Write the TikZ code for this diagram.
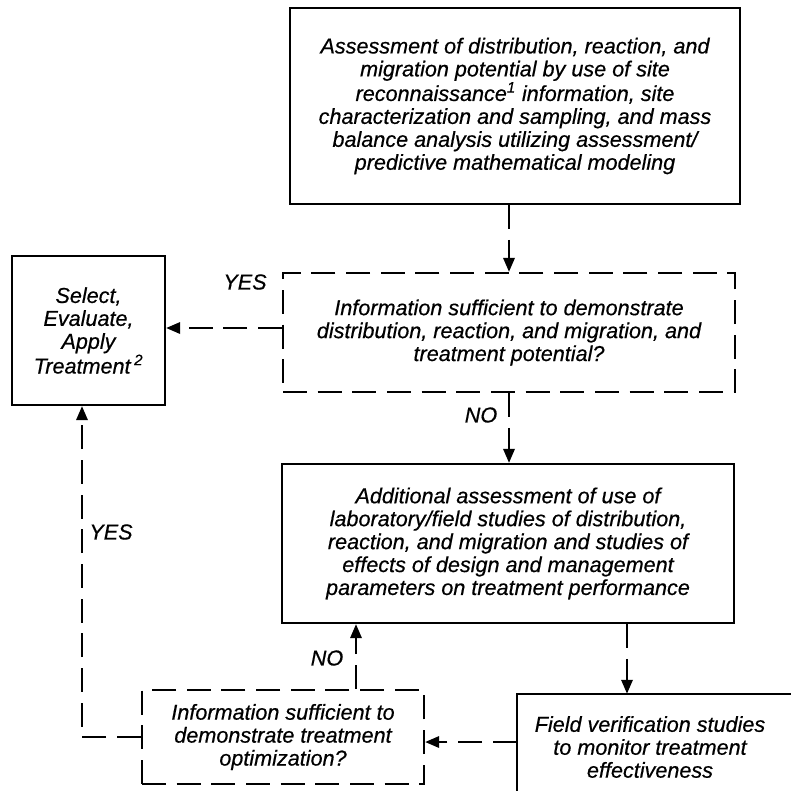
\documentclass[tikz,border=0pt]{standalone}
\usepackage{fontspec}
\setmainfont{Liberation Sans}[FakeBold=0.5]
\usetikzlibrary{arrows.meta}
\begin{document}
\begin{tikzpicture}[x=0.75pt,y=-0.75pt,
  every node/.style={font=\itshape\fontsize{16.2}{17.2}\selectfont, align=center, inner sep=0pt},
  box/.style={draw, line width=1.7pt},
  dbox/.style={box, dash pattern=on 18pt off 8pt},
  conn/.style={line width=1.7pt, dash pattern=on 18pt off 8pt, -{Triangle[length=10.5pt,width=8.5pt]}}]
\useasboundingbox (0,0) rectangle (791,790);
\fill[white] (0,0) rectangle (791,790);

\node[box, minimum width=337.5pt, minimum height=147pt] (top) at (515,106)
  {Assessment of distribution, reaction, and\\ migration potential by use of site\\ reconnaissance\textsuperscript{1} information, site\\ characterization and sampling, and mass\\ balance analysis utilizing assessment/\\ predictive mathematical modeling};
\node[dbox, minimum width=339pt, minimum height=89.25pt] (d1) at (509,332.5)
  {Information sufficient to demonstrate\\ distribution, reaction, and migration, and\\ treatment potential?};
\node[box, minimum width=114.75pt, minimum height=111.75pt] (sel) at (88.5,330.5)
  {Select,\\ Evaluate,\\ Apply\\ Treatment\,\textsuperscript{2}};
\node[box, minimum width=339pt, minimum height=119.25pt] (add) at (508,543.5)
  {Additional assessment of use of\\ laboratory/field studies of distribution,\\ reaction, and migration and studies of\\ effects of design and management\\ parameters on treatment performance};
\node[dbox, minimum width=211.5pt, minimum height=70.5pt] (d2) at (283,737)
  {Information sufficient to\\ demonstrate treatment\\ optimization?};
\node[minimum width=199.5pt, minimum height=79.5pt] (field) at (650,747)
  {Field verification studies\\ to monitor treatment\\ effectiveness};
\draw[line width=1.7pt] (field.south west) -- (field.north west) -- ++(320,0);

\coordinate (fx) at (627,0);
\coordinate (fy) at (0,742);
\coordinate (nx) at (356,0);
\coordinate (lx) at (82,0);
\coordinate (ya) at (0,328);

\draw[conn] (top.south -| d1.north) -- (d1.north);
\draw[conn] (d1.south) -- (add.north -| d1.south);
\draw[conn] (d1.west |- ya) -- (sel.east |- ya);
\draw[conn] (add.south -| fx) -- (field.north -| fx);
\draw[conn] (field.west |- fy) -- (d2.east |- fy);
\draw[conn] (d2.north -| nx) -- (add.south -| nx);
\draw[conn] (d2.west) -| (sel.south -| lx);

\node (yes1) at (245,282) {YES};
\node (no1) at (481,415) {NO};
\node (no2) at (327,658) {NO};
\node (yes2) at (111,532) {YES};
\end{tikzpicture}
\end{document}
